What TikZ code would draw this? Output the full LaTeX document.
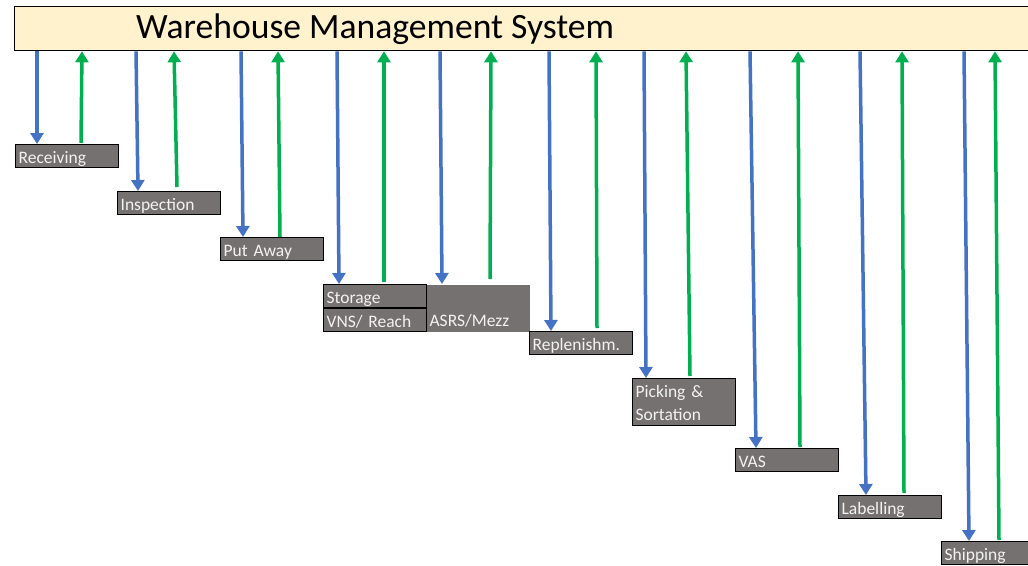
\documentclass[tikz,border=0pt]{standalone}
\usepackage{fontspec}
\setmainfont{Carlito}
\usetikzlibrary{arrows.meta,calc}
\definecolor{wmsyellow}{HTML}{FFF2CC}
\definecolor{wmsgray}{HTML}{767171}
\definecolor{wmsblue}{HTML}{4472C4}
\definecolor{wmsgreen}{HTML}{00B050}
\tikzset{
  banner/.style={draw=black, line width=1.3pt, fill=wmsyellow, rectangle,
    minimum width=1030pt, minimum height=44pt, anchor=north west},
  stepbox/.style={draw=black, line width=1.2pt, fill=wmsgray, rectangle,
    minimum width=103pt, minimum height=23pt, anchor=north west,
    text=white!95!black, font=\fontsize{17.5}{23}\selectfont, inner xsep=3pt,
    inner ysep=0pt, text width=97pt, align=left, text height=18pt, text depth=4pt},
  todown/.style={draw=wmsblue, line width=3.5pt, -{Triangle[width=13pt,length=11pt]}},
  toup/.style={draw=wmsgreen, line width=3.5pt, -{Triangle[width=13pt,length=11pt]}},
}
\begin{document}
\begin{tikzpicture}[x=1pt,y=-1pt]
    \useasboundingbox (0,0) rectangle (1028,565);
    \fill[white] (0,0) rectangle (1028,565);
    %% Banner
    \node[banner] (wms) at (14,6) {};
    \node[anchor=west, font=\fontsize{35.6}{40}\selectfont, inner sep=0pt] (title) at (136,29) {Warehouse Management System};
    %% Process steps
    \node[stepbox] (rcv) at (15,144) {Receiving};
    \node[stepbox] (insp) at (117,191) {Inspection};
    \node[stepbox] (put) at (220,237) {Put Away};
    \node[stepbox] (stor) at (323,284) {Storage};
    \node[stepbox] (vns) at (323,308) {VNS/ Reach};
    \node[stepbox, draw=none, minimum height=47pt, text height=41pt] (asrs) at (426,284) {ASRS/Mezz};
    \node[stepbox, minimum height=47pt, text depth=27pt] (pick) at (632,378) {Picking \&\\Sortation};
    \node[stepbox] (repl) at (529,331) {Replenishm.};
    \node[stepbox] (vas) at (735,448) {VAS};
    \node[stepbox] (lab) at (838,495) {Labelling};
    \node[stepbox] (ship) at (941,541) {Shipping};
    %% Arrows: box / blue top / blue bottom / green bottom / green top / gap
    \foreach \bx/\bt/\bb/\gb/\gt/\gap in {rcv/37/37/81/82/1, insp/136/138/177/174/4,
        put/241/243/280/278/0, stor/337/339/384/384/2, asrs/440/442/490/491/5,
        repl/549/551/597/596/3, pick/644/646/690/686/2, vas/750/756/800/798/1,
        lab/860/866/904/902/2, ship/964/969/999/995/1} {
      \draw[todown] (wms.south -| \bt,0) -- (\bx.north -| \bb,0);
      \draw[toup] ($(\bx.north -| \gb,0)+(0,-\gap)$) -- (wms.south -| \gt,0);
    }
\end{tikzpicture}
\end{document}
